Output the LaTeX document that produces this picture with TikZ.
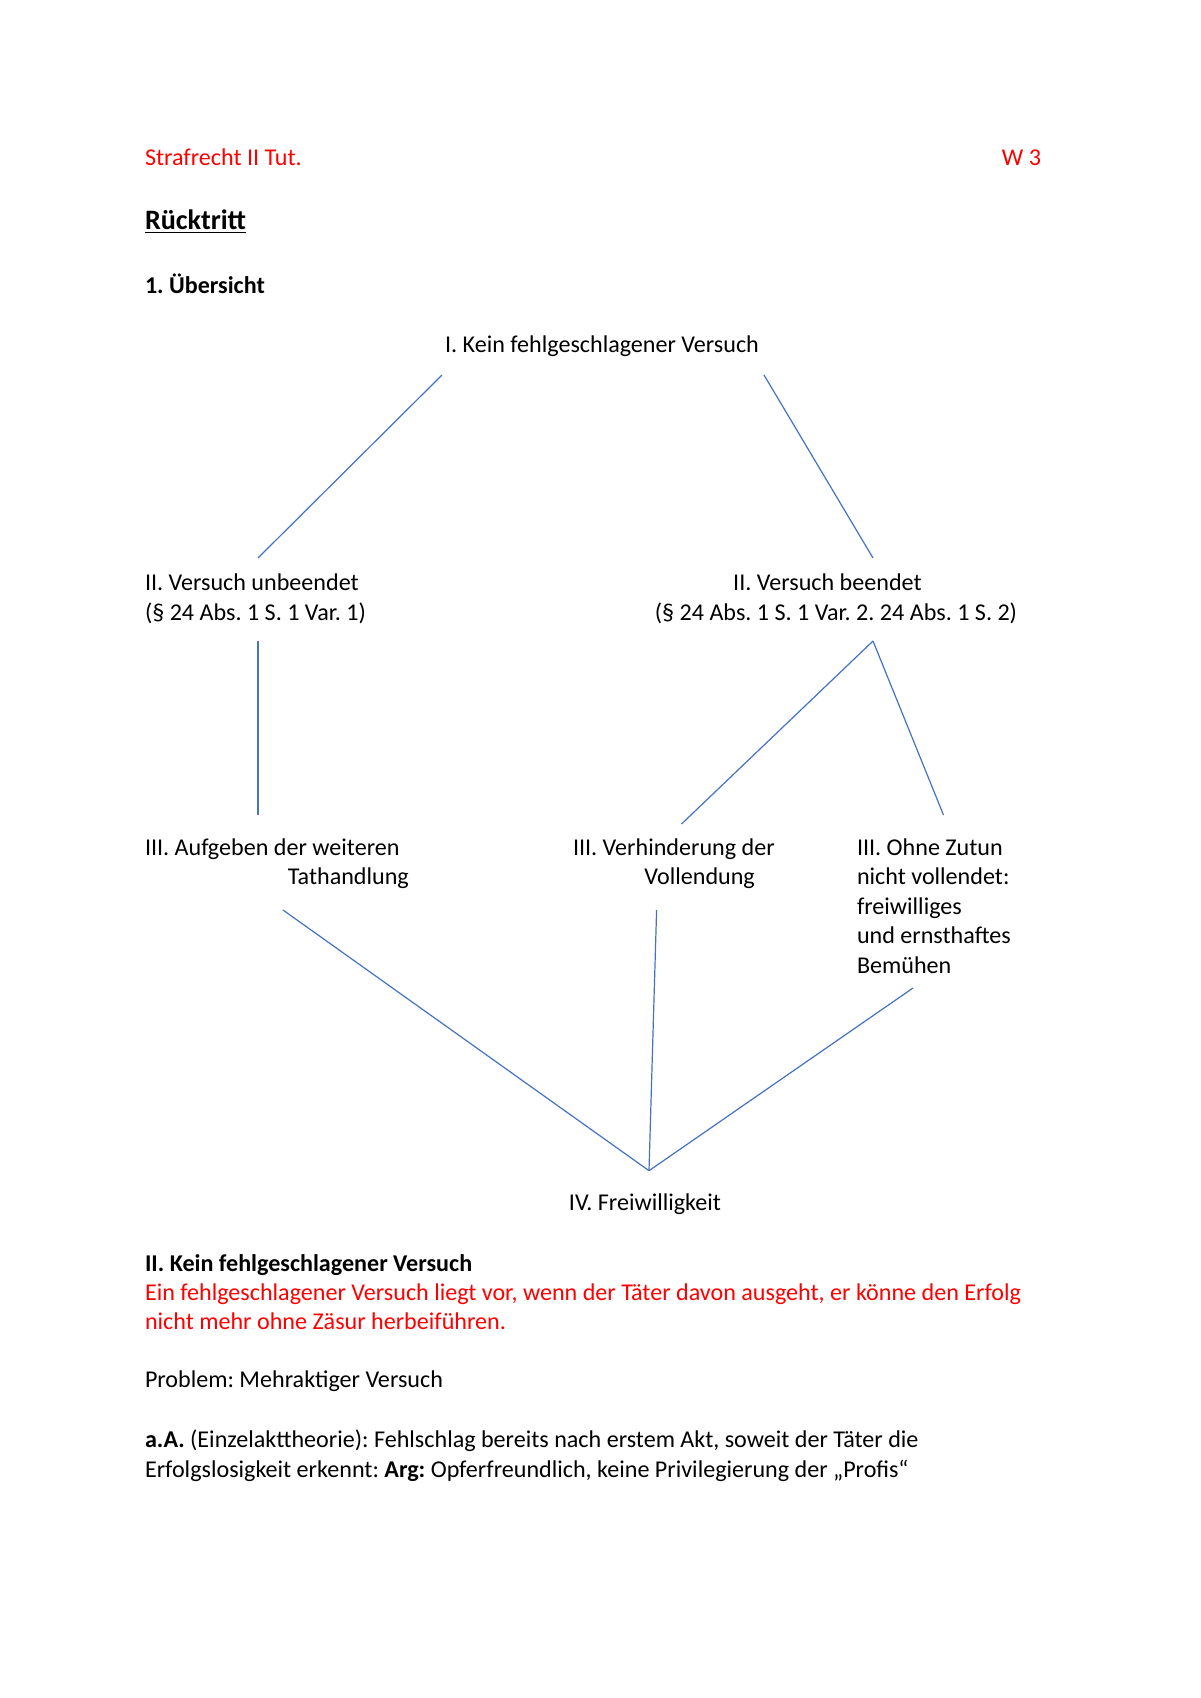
\documentclass[tikz,border=0pt]{standalone}
\usepackage{fontspec}
\setmainfont{Carlito}
\usepackage{xcolor}
\definecolor{linieblau}{HTML}{4472C4}
\tikzstyle{txt} = [inner sep=0pt, outer sep=0pt, anchor=base west, font=\fontsize{12}{14.65}\selectfont]
\tikzstyle{linie} = [draw=linieblau, line width=0.6pt]
\frenchspacing

\begin{document}
\begin{tikzpicture}[x=0.175mm,y=-0.175mm]
\useasboundingbox (0,0) rectangle (1200,1698);
\node[txt, text=red] (kopf) at (145,165.7) {Strafrecht II Tut.};
\node[txt, text=red, anchor=base east] (woche) at (1041,165.7) {W 3};
\node[txt, font=\fontsize{14}{17}\selectfont\bfseries] (titel) at (145,229) {\underline{Rücktritt}};
\node[txt, font=\fontsize{12}{14.65}\selectfont\bfseries] (uebersicht) at (145,293) {1. Übersicht};

\node[txt, anchor=base] (kein) at (602,352.7) {I. Kein fehlgeschlagener Versuch};
\node[txt, align=left] (unbeendet) at (145,620) {II. Versuch unbeendet\\(§ 24 Abs. 1 S. 1 Var. 1)};
\node[txt, anchor=base, align=center] (beendet) at (836,620) {II. Versuch beendet\hspace*{3mm}\\(§ 24 Abs. 1 S. 1 Var. 2. 24 Abs. 1 S. 2)};
\node[txt, align=left] (aufgeben) at (145,884.5) {III. Aufgeben der weiteren\\\hspace*{25mm}Tathandlung};
\node[txt, align=left] (verhinderung) at (573,884.5) {III. Verhinderung der\\\hspace*{12.5mm}Vollendung};
\node[txt, align=left] (ohne) at (857,973) {III. Ohne Zutun\\nicht vollendet:\\freiwilliges\\und ernsthaftes\\Bemühen};
\node[txt, anchor=base] (frei) at (645,1210) {IV. Freiwilligkeit};

\coordinate (keinL) at (442,375);
\coordinate (keinR) at (764,375);
\coordinate (unbOben) at (258,558);
\coordinate (unbUnten) at (258,641);
\coordinate (beeOben) at (873,558);
\coordinate (beeUnten) at (873,641);
\coordinate (aufOben) at (258,815);
\coordinate (aufUnten) at (283,910);
\coordinate (verOben) at (681.5,824);
\coordinate (verUnten) at (656.6,910);
\coordinate (ohneOben) at (943.5,815);
\coordinate (ohneUnten) at (913,988);
\coordinate (freiOben) at (649,1170.7);

\draw[linie] (keinL) -- (unbOben);
\draw[linie] (keinR) -- (beeOben);
\draw[linie] (unbUnten) -- (aufOben);
\draw[linie] (beeUnten) -- (verOben);
\draw[linie] (beeUnten) -- (ohneOben);
\draw[linie] (aufUnten) -- (freiOben);
\draw[linie] (verUnten) -- (freiOben);
\draw[linie] (ohneUnten) -- (freiOben);

\node[txt, font=\fontsize{12}{14.65}\selectfont\bfseries] (abschnitt) at (145,1271) {II. Kein fehlgeschlagener Versuch};
\node[txt, text=red, align=left] (definition) at (145,1329.5) {Ein fehlgeschlagener Versuch liegt vor, wenn der Täter davon ausgeht, er könne den Erfolg\\nicht mehr ohne Zäsur herbeiführen.};
\node[txt] (problem) at (145,1387) {Problem: Mehraktiger Versuch};
\node[txt, align=left] (meinung) at (145,1477) {\textbf{a.A.} (Einzelakttheorie): Fehlschlag bereits nach erstem Akt, soweit der Täter die\\Erfolgslosigkeit erkennt: \textbf{Arg:} Opferfreundlich, keine Privilegierung der „Profis“};
\end{tikzpicture}
\end{document}
